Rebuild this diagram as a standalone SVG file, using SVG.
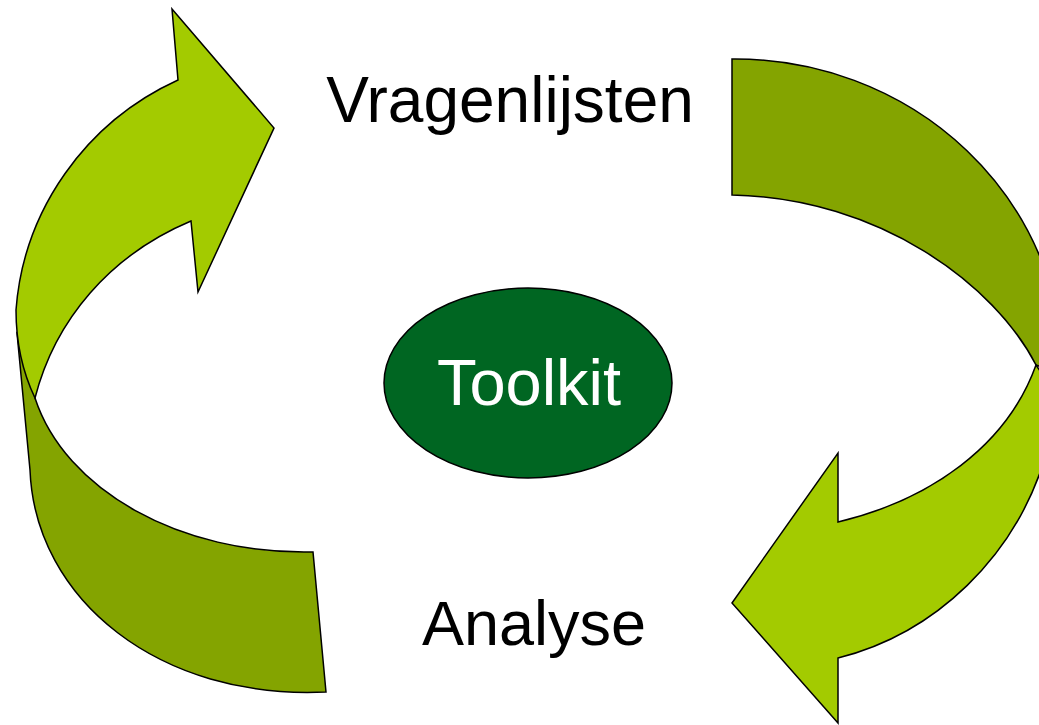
<svg xmlns="http://www.w3.org/2000/svg" width="1039" height="725" viewBox="0 0 1039 725">
<style>
.dark{fill:#84A400;stroke:#000;stroke-width:1.5;stroke-linejoin:miter}
.light{fill:#A3CB00;stroke:#000;stroke-width:1.5;stroke-linejoin:miter}
.lbl{font-family:"Liberation Sans",Arial,sans-serif;fill:#000;text-anchor:middle}
</style>
<rect width="1039" height="725" fill="#fff"/>
<g id="connectors">
<g id="arrow-left">
<path class="dark" d="M 17,333 L 30,470 C 35,600 160,700 326,692 L 313,552 C 180,555 65,490 35,398 L 25,340 Z"/>
<path class="light" d="M 178,80 L 172,9 L 274,128 L 198,292 L 191,221 C 110,255 55,320 35,398 C 24,375 16,345 16,310 A 282 276 0 0 1 178,80 Z"/>
</g>
<g id="arrow-right">
<path class="dark" d="M 732,59 A 328 313 0 0 1 1063,375 L 1036,365 C 995,285 880,198 732,195 Z"/>
<path class="light" d="M 1036,365 C 1007,446 930,500 838,522 L 838,453 L 732,603 L 838,723 L 838,658 C 930,635 1020,560 1050,440 L 1060,400 Z"/>
</g>
</g>
<g id="node-vragenlijsten">
<text class="lbl" x="510" y="122" font-size="64">Vragenlijsten</text>
</g>
<g id="node-toolkit">
<ellipse cx="528" cy="383" rx="144" ry="95" fill="#006622" stroke="#000" stroke-width="1.5"/>
<text class="lbl" x="529" y="405" font-size="65" style="fill:#fff">Toolkit</text>
</g>
<g id="node-analyse">
<text class="lbl" x="534" y="645" font-size="63">Analyse</text>
</g>
</svg>
